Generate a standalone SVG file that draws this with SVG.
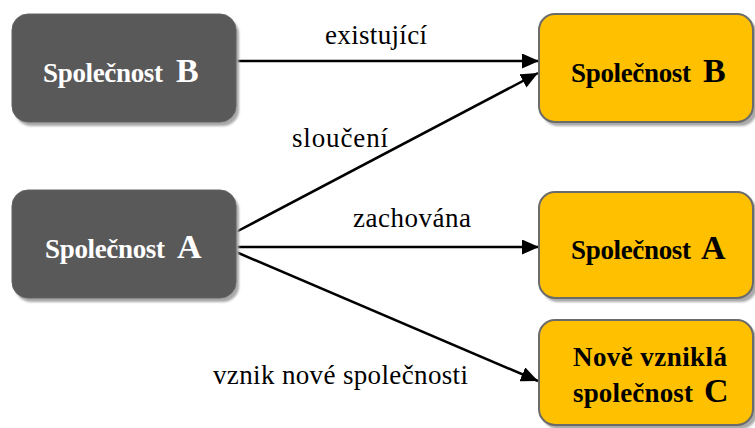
<svg xmlns="http://www.w3.org/2000/svg" width="755" height="428" viewBox="0 0 755 428">
<style>
.dark{fill:#595959;stroke:#646464;stroke-width:1}
.gold{fill:#FFC000;stroke:#6b6b6b;stroke-width:2}
.shadow{fill:#a8a8a8;filter:url(#blur)}
.bt{font-family:"Liberation Serif","DejaVu Serif",serif;font-weight:bold;font-size:27px}
.big{font-size:34px}
.w{fill:#ffffff}
.k{fill:#000000}
.lbl{font-family:"Liberation Serif","DejaVu Serif",serif;font-size:27px;fill:#000}
.con{stroke:#000;stroke-width:2.5;fill:none;marker-end:url(#arr)}
</style>
<defs>
<filter id="blur" x="-10%" y="-10%" width="120%" height="120%"><feGaussianBlur stdDeviation="1.2"/></filter>
<marker id="arr" markerUnits="userSpaceOnUse" markerWidth="17" markerHeight="15" viewBox="0 0 17 15" refX="17" refY="7.5" orient="auto">
<path d="M0,0 L17,7.5 L0,15 z" fill="#000"/>
</marker>
</defs>
<rect width="755" height="428" fill="#ffffff"/>
<g id="connectors">
<line class="con" x1="236" y1="61" x2="539" y2="61"/>
<line class="con" x1="236" y1="232" x2="538" y2="73"/>
<line class="con" x1="236" y1="247" x2="539" y2="247"/>
<line class="con" x1="236" y1="252" x2="538" y2="381"/>
<text class="lbl" x="325" y="44" textLength="102" lengthAdjust="spacing">existující</text>
<text class="lbl" x="292" y="147" textLength="96" lengthAdjust="spacing">sloučení</text>
<text class="lbl" x="353" y="227" textLength="118" lengthAdjust="spacing">zachována</text>
<text class="lbl" x="213" y="384" textLength="255" lengthAdjust="spacing">vznik nové společnosti</text>
</g>
<g id="nodeB_left">
<rect class="shadow" x="15" y="18" width="224" height="108" rx="16"/>
<rect class="dark" x="12" y="14" width="224" height="108" rx="16"/>
<text class="bt w" y="82"><tspan x="43" textLength="120" lengthAdjust="spacing">Společnost</tspan><tspan class="big" x="176">B</tspan></text>
</g>
<g id="nodeA_left">
<rect class="shadow" x="15" y="194" width="224" height="108" rx="16"/>
<rect class="dark" x="12" y="190" width="224" height="108" rx="16"/>
<text class="bt w" y="258"><tspan x="45" textLength="120" lengthAdjust="spacing">Společnost</tspan><tspan class="big" x="177">A</tspan></text>
</g>
<g id="nodeB_right">
<rect class="shadow" x="542" y="18" width="215" height="108" rx="16"/>
<rect class="gold" x="539" y="14" width="214" height="108" rx="16"/>
<text class="bt k" y="82"><tspan x="571" textLength="120" lengthAdjust="spacing">Společnost</tspan><tspan class="big" x="703">B</tspan></text>
</g>
<g id="nodeA_right">
<rect class="shadow" x="542" y="196" width="215" height="106" rx="16"/>
<rect class="gold" x="539" y="192" width="214" height="106" rx="16"/>
<text class="bt k" y="259"><tspan x="571" textLength="120" lengthAdjust="spacing">Společnost</tspan><tspan class="big" x="701">A</tspan></text>
</g>
<g id="nodeC_right">
<rect class="shadow" x="542" y="324" width="215" height="105" rx="16"/>
<rect class="gold" x="539" y="320" width="214" height="105" rx="16"/>
<text class="bt k" x="573" y="366" textLength="154" lengthAdjust="spacing">Nově vzniklá</text>
<text class="bt k" y="402"><tspan x="573" textLength="120" lengthAdjust="spacing">společnost</tspan><tspan class="big" x="704">C</tspan></text>
</g>
</svg>
